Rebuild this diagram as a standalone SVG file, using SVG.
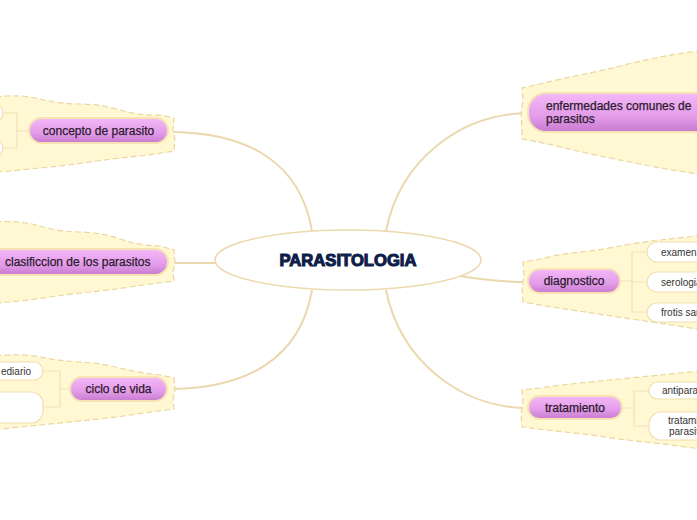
<svg xmlns="http://www.w3.org/2000/svg" width="697" height="520" viewBox="0 0 697 520">
<defs>
<linearGradient id="pill" x1="0" y1="0" x2="0" y2="1">
<stop offset="0" stop-color="#f4b8f7"/>
<stop offset="0.6" stop-color="#e39cea"/>
<stop offset="1" stop-color="#c77acf"/>
</linearGradient>
<style>
.cloud{fill:#fff8d2;stroke:#ead7a0;stroke-width:1.2;stroke-dasharray:6 3}
.pill{fill:url(#pill);stroke:#f6e3b4;stroke-width:2}
.ptext{font-family:"Liberation Sans",Arial,sans-serif;font-size:12px;fill:#2b1a2b;stroke:#2b1a2b;stroke-width:0.25}
.sub{fill:#ffffff;stroke:#f0dfb0;stroke-width:1.2}
.stext{font-family:"Liberation Sans",Arial,sans-serif;font-size:10px;fill:#333333}
.main{stroke:#ebd8ae;stroke-width:2;fill:none}
.thin{stroke:#f1e2bc;stroke-width:1.2;fill:none}
</style>
</defs>
<rect width="697" height="520" fill="#ffffff"/>

<g id="connectors">
<path class="main" d="M312,231 C300,160 245,133 173,132"/>
<path class="main" d="M215,263 L173,263"/>
<path class="main" d="M312,290 C300,360 245,388 173,389"/>
<path class="main" d="M386,231 C400,160 460,114 528,113"/>
<path class="main" d="M460,276 C490,281 505,282 528,282"/>
<path class="main" d="M386,290 C400,360 460,408 528,408"/>
</g>

<g id="central">
<ellipse cx="348" cy="260" rx="133" ry="30" fill="#ffffff" stroke="#ecd9ae" stroke-width="1.5"/>
<text x="348" y="266" text-anchor="middle" textLength="137" lengthAdjust="spacingAndGlyphs" font-family="'Liberation Sans',Arial,sans-serif" font-weight="bold" font-size="17" fill="#0f1d4a" stroke="#0f1d4a" stroke-width="1.1">PARASITOLOGIA</text>
</g>

<g id="concepto">
<path class="cloud" d="M-5,97 Q20,94 40,99 T80,104 T120,110 T160,115 L174,118 L173,130 L175,140 L174,151 Q150,155 130,157 T90,162 T50,167 T10,171 L-5,172 Z"/>
<path class="thin" d="M29,131 L17,131 M3,113 L17,113 L17,148 L3,148"/>
<rect class="sub" x="-60" y="103" width="63" height="20" rx="10"/>
<rect class="sub" x="-60" y="138" width="63" height="20" rx="10"/>
<rect class="pill" x="29" y="118" width="139" height="25" rx="12.5"/>
<text class="ptext" x="98.5" y="135" text-anchor="middle">concepto de parasito</text>
</g>

<g id="clasificcion">
<path class="cloud" d="M-5,222 Q20,220 40,226 T80,232 T120,239 T160,246 L174,250 L175,262 L173,272 L174,281 Q150,284 130,287 T90,292 T50,297 T10,302 L-5,303 Z"/>
<rect class="pill" x="-20" y="249" width="188" height="26" rx="13"/>
<text class="ptext" x="5" y="266">clasificcion de los parasitos</text>
</g>

<g id="ciclo">
<path class="cloud" d="M-5,356 Q20,353 40,357 T80,362 T120,368 T160,375 L174,378 L175,390 L173,400 L174,409 Q150,412 130,415 T90,420 T50,424 T10,428 L-5,430 Z"/>
<path class="thin" d="M70,389 L60,389 M43,371 L60,371 L60,407 L43,407"/>
<rect class="sub" x="-40" y="362" width="83" height="18" rx="9"/>
<text class="stext" x="31" y="375" text-anchor="end">ediario</text>
<rect class="sub" x="-40" y="392" width="83" height="31" rx="12"/>
<rect class="pill" x="70" y="377" width="97" height="24" rx="12"/>
<text class="ptext" x="118.5" y="393" text-anchor="middle">ciclo de vida</text>
</g>

<g id="enfermedades">
<path class="cloud" d="M702,51 Q680,53 660,57 T620,66 T580,75 T540,84 L522,88 L523,100 L521,115 L522,128 L522,139 Q545,143 565,148 T605,157 T645,165 T685,172 L702,175 Z"/>
<rect class="pill" x="528" y="93" width="200" height="39" rx="18"/>
<text class="ptext" x="546" y="110">enfermedades comunes de</text>
<text class="ptext" x="546" y="123">parasitos</text>
</g>

<g id="diagnostico">
<path class="cloud" d="M702,235 Q680,238 660,240 T620,246 T580,252 T540,259 L523,262 L524,275 L522,288 L523,302 Q545,306 565,309 T605,315 T645,321 T685,327 L702,330 Z"/>
<path class="thin" d="M620,281 L632,281 M647,252 L632,252 L632,312 L647,312 M632,282 L647,282"/>
<rect class="sub" x="647" y="242" width="80" height="20" rx="10"/>
<text class="stext" x="661" y="256">examen</text>
<rect class="sub" x="647" y="272" width="80" height="20" rx="10"/>
<text class="stext" x="661" y="286">serologia</text>
<rect class="sub" x="647" y="303" width="80" height="19" rx="9.5"/>
<text class="stext" x="661" y="316">frotis sanguineo</text>
<rect class="pill" x="528" y="269" width="92" height="24" rx="12"/>
<text class="ptext" x="574" y="285" text-anchor="middle">diagnostico</text>
</g>

<g id="tratamiento">
<path class="cloud" d="M702,371 Q680,373 660,375 T620,379 T580,383 T540,388 L522,390 L523,402 L521,415 L522,427 Q545,430 565,432 T605,437 T645,442 T685,447 L702,449 Z"/>
<path class="thin" d="M622,408 L634,408 M649,391 L634,391 L634,426 L649,426"/>
<rect class="sub" x="649" y="382" width="80" height="17" rx="8.5"/>
<text class="stext" x="662" y="394">antiparasitarios</text>
<rect class="sub" x="649" y="412" width="80" height="28" rx="12"/>
<text class="stext" x="668" y="424">tratamiento</text>
<text class="stext" x="669" y="435">parasitario</text>
<rect class="pill" x="528" y="396" width="94" height="23" rx="11.5"/>
<text class="ptext" x="575" y="412" text-anchor="middle">tratamiento</text>
</g>
</svg>
